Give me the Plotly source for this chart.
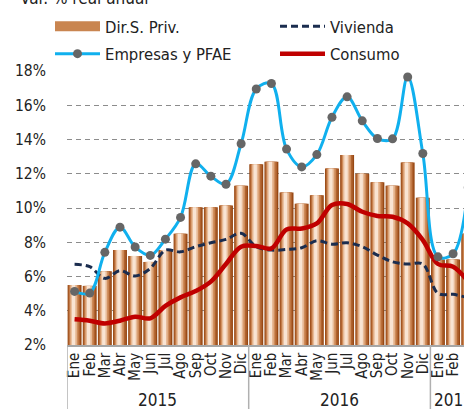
import plotly.graph_objects as go

months = ["Ene", "Feb", "Mar", "Abr", "May", "Jun", "Jul", "Ago", "Sep", "Oct", "Nov", "Dic",
          "Ene", "Feb", "Mar", "Abr", "May", "Jun", "Jul", "Ago", "Sep", "Oct", "Nov", "Dic",
          "Ene", "Feb", "Mar"]
years = ["2015", "2016", "2017"]

dir_s_priv = [5.5, 5.45, 6.3, 7.55, 7.2, 6.85, 7.55, 8.5, 10.05, 10.05, 10.15, 11.3,
              12.55, 12.7, 10.9, 10.25, 10.75, 12.3, 13.1, 12.0, 11.5, 11.3, 12.65, 10.6,
              7.0, 7.0, 8.5]
empresas = [5.13, 5.03, 7.41, 8.88, 7.72, 7.23, 8.18, 9.45, 12.58, 11.86, 11.39, 13.75,
            16.95, 17.27, 13.44, 12.4, 13.12, 15.3, 16.49, 15.09, 14.06, 14.04, 17.65, 13.18,
            7.15, 7.33, 11.2]
vivienda = [6.71, 6.57, 5.89, 6.34, 6.03, 6.47, 7.54, 7.44, 7.74, 7.97, 8.17, 8.52,
            7.74, 7.54, 7.58, 7.68, 8.09, 7.89, 7.97, 7.74, 7.25, 6.86, 6.73, 6.73,
            5.02, 4.96, 4.75]
consumo = [3.5, 3.42, 3.26, 3.42, 3.65, 3.56, 4.28, 4.78, 5.15, 5.7, 6.73, 7.74,
           7.78, 7.64, 8.75, 8.8, 9.1, 10.17, 10.23, 9.78, 9.53, 9.49, 9.1, 8.13,
           6.73, 6.57, 5.7]
y_ticks = [2, 4, 6, 8, 10, 12, 14, 16, 18]
y_labels = [f"{v}%" for v in y_ticks]

FONT = "DejaVu Sans Condensed, Liberation Sans Narrow, sans-serif"
TXT = "#222222"
x = list(range(len(months)))

W, H = 464, 409
L, T, B, R = 67, 71, 64, 0
PH = H - T - B
PW = W - L - R

fig = go.Figure()

# copper gradient bars as nested layers
layers = [
    (0.92, -0.46, "#974814"),
    (0.78, -0.41, "#b0622e"),
    (0.60, -0.34, "#cf8c5a"),
    (0.42, -0.27, "#e8bb98"),
    (0.22, -0.18, "#f9e4d3"),
]
for w, off, col in layers:
    fig.add_trace(go.Bar(x=x, y=[v - 2 for v in dir_s_priv], base=2, width=w, offset=off,
                         marker=dict(color=col, line=dict(width=0)),
                         showlegend=False, hoverinfo="skip"))

# legend proxy for bars
fig.add_trace(go.Scatter(x=[None], y=[None], mode="lines", name="Dir.S. Priv.",
                         line=dict(color="#c98550", width=15), legend="legend",
                         legendgroup="a", legendrank=1))

fig.add_trace(go.Scatter(x=x, y=vivienda, mode="lines", name="Vivienda",
                         line=dict(color="#1b2d4f", width=3, dash="7px,4px", shape="spline"),
                         legend="legend2", legendgroup="c", legendrank=1))
fig.add_trace(go.Scatter(x=x, y=consumo, mode="lines", name="Consumo",
                         line=dict(color="#c00000", width=4.5, shape="spline"),
                         legend="legend2", legendgroup="d", legendrank=2))
fig.add_trace(go.Scatter(x=x, y=empresas, mode="lines+markers", name="Empresas y PFAE",
                         line=dict(color="#10b0ee", width=3, shape="spline"),
                         marker=dict(color="#666666", size=9),
                         legend="legend", legendgroup="b", legendrank=2))

sep_bottom = -(H - T - PH) / PH
shapes = []
for sx in [-0.5, 11.5, 23.5]:
    shapes.append(dict(type="line", xref="x", yref="paper", x0=sx, x1=sx, y0=0, y1=sep_bottom,
                       line=dict(color="#b0b0b0", width=1.5)))

annotations = []
for yr, cx in zip(years, [5.5, 17.5, 25]):
    annotations.append(dict(text=yr, x=cx, y=-55 / PH, xref="x", yref="paper", showarrow=False,
                            font=dict(family=FONT, size=17, color=TXT),
                            xanchor="center", yanchor="middle"))
annotations.append(dict(text="Var. % real anual", x=(18 - L) / PW, y=1 + (T + 2) / PH,
                        xref="paper", yref="paper",
                        showarrow=False, xanchor="left", yanchor="middle",
                        font=dict(family=FONT, size=17, color=TXT)))

legend_common = dict(orientation="v", xref="container", yref="container",
                     xanchor="left", yanchor="top", itemwidth=45, tracegroupgap=3,
                     font=dict(family=FONT, size=16.5, color=TXT),
                     bgcolor="rgba(0,0,0,0)")

fig.update_layout(
    width=W, height=H,
    margin=dict(l=L, r=R, t=T, b=B, autoexpand=False),
    plot_bgcolor="white", paper_bgcolor="white",
    barmode="overlay",
    font=dict(family=FONT, color=TXT),
    shapes=shapes, annotations=annotations,
    legend=dict(x=50 / W, y=1 - 9 / H, **legend_common),
    legend2=dict(x=275 / W, y=1 - 9 / H, **legend_common),
    xaxis=dict(range=[-0.5, 25.72], tickmode="array", tickvals=x, ticktext=months,
               tickangle=-90, showgrid=False, zeroline=False, showline=True,
               linecolor="#a6a6a6", linewidth=1.5, ticks="",
               tickfont=dict(family=FONT, size=15, color=TXT)),
    yaxis=dict(range=[2, 18], tickmode="array", tickvals=y_ticks, ticktext=y_labels,
               showgrid=True, gridcolor="#8c8c8c", gridwidth=1.3, griddash="5px,4px",
               zeroline=False, showline=False, ticks="", ticklabelstandoff=20,
               tickfont=dict(family=FONT, size=15.5, color=TXT)),
)

fig.write_html("out.html", config={"displayModeBar": False},
               post_script="document.body.style.margin='0';document.body.style.overflow='hidden';")
